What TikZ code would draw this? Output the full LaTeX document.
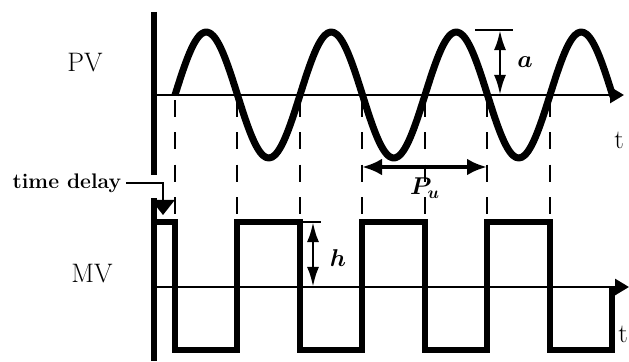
\documentclass[tikz,border=0pt]{standalone}
\usepackage{amsmath, amssymb}
\usepackage{bm}
\usetikzlibrary{arrows.meta, positioning}

\tikzset{
  vaxis/.style={line width=4pt},
  haxis/.style={line width=2pt, -{Triangle[length=0.35cm, width=0.4cm]}},
  pvwave/.style={line width=5pt, line join=round},
  mvwave/.style={line width=4.2pt, line join=miter},
  switchline/.style={line width=2pt, dash pattern=on 12pt off 11pt},
  tickline/.style={line width=1.8pt},
  dimarrow/.style={line width=2pt, {Latex[length=0.5cm, width=0.3cm]}-{Latex[length=0.5cm, width=0.3cm]}},
  periodarrow/.style={line width=3pt, {Latex[length=0.5cm, width=0.42cm]}-{Latex[length=0.5cm, width=0.42cm]}},
  siglabel/.style={font=\fontsize{19}{22}\selectfont},
  mathlabel/.style={font=\fontsize{18}{20}\selectfont},
}

\begin{document}
\begin{tikzpicture}[x=0.025cm, y=-0.025cm]
    \useasboundingbox (0,0) rectangle (629,361);
    % switching instants
    \foreach \t in {175,237,300,362,425,487,550}
      \draw[switchline] (\t,100) -- (\t,222);
    % axes
    \coordinate (pvtop) at (154,12);
    \coordinate (pvbot) at (154,175);
    \coordinate (pvo) at (154,95);
    \coordinate (pvend) at (624,95);
    \coordinate (mvtop) at (154,198);
    \coordinate (mvbot) at (154,361);
    \coordinate (mvo) at (154,287);
    \coordinate (mvend) at (629,287);
    \draw[vaxis] (pvtop) -- (pvbot);
    \draw[vaxis] (mvtop) -- (mvbot);
    \draw[haxis] (pvo) -- (pvend);
    \draw[haxis] (mvo) -- (mvend);
    % process variable
    \draw[pvwave] plot[domain=175:613, samples=150, smooth]
      (\x, {95-63*sin(2.88*(\x-175))});
    % relay output
    \draw[mvwave] (155,222) -- (175,222) -- (175,350) -- (237,350) -- (237,222)
      -- (300,222) -- (300,350) -- (362,350) -- (362,222) -- (425,222)
      -- (425,350) -- (487,350) -- (487,222) -- (550,222) -- (550,350)
      -- (612,350) -- (612,287);
    % labels
    \node[siglabel] (pv) at (85,63) {PV};
    \node[siglabel] (mv) at (92,274) {MV};
    \node[siglabel] (tpv) at (619,140) {t};
    \node[siglabel] (tmv) at (623,334) {t};
    % amplitude a
    \coordinate (atl) at (475,30);
    \coordinate (atr) at (513,30);
    \coordinate (atop) at (500,30);
    \coordinate (abot) at (500,95);
    \draw[tickline] (atl) -- (atr);
    \draw[dimarrow] (atop) -- (abot);
    \node[mathlabel] (alab) at (525,62) {$\bm{a}$};
    % relay amplitude h
    \coordinate (htl) at (300,222);
    \coordinate (htr) at (321,222);
    \coordinate (htop) at (313,222);
    \coordinate (hbot) at (313,287);
    \draw[tickline] (htl) -- (htr);
    \draw[dimarrow] (htop) -- (hbot);
    \node[mathlabel] (hlab) at (338,258) {$\bm{h}$};
    % ultimate period
    \coordinate (pul) at (362,167);
    \coordinate (pur) at (487,167);
    \draw[periodarrow] (pul) -- (pur);
    \node[mathlabel] (pulab) at (425,188) {$\bm{P_u}$};
    % time delay
    \node[font=\fontsize{15}{17}\selectfont\bfseries, anchor=east] (delay) at (126,183) {time delay};
    \coordinate (delaytip) at (163,215);
    \draw[line width=1.8pt, -{Triangle[length=0.375cm, width=0.575cm]}] (delay.east) -| (delaytip);
  \end{tikzpicture}
\end{document}
